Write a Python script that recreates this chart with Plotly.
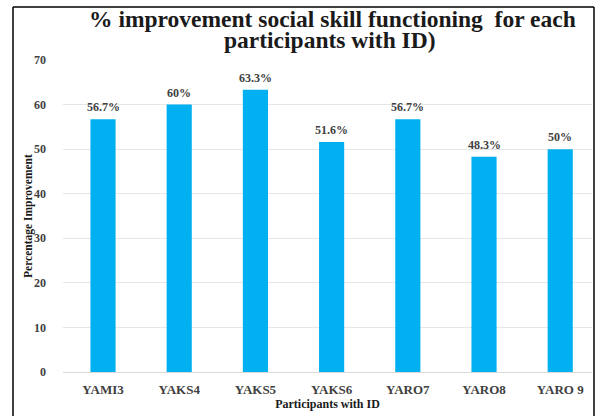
import plotly.graph_objects as go

participants = ["YAMI3", "YAKS4", "YAKS5", "YAKS6", "YARO7", "YARO8", "YARO 9"]
improvement = [56.7, 60, 63.3, 51.6, 56.7, 48.3, 50]
labels = ["56.7%", "60%", "63.3%", "51.6%", "56.7%", "48.3%", "50%"]
y_ticks = [0, 10, 20, 30, 40, 50, 60, 70]
title_lines = ["% improvement social skill functioning  for each", "participants with ID)"]

W, H = 595, 416
L, R, T, B = 63, 3, 60, 44
pw, ph = W - L - R, H - T - B

font = "Liberation Serif"

fig = go.Figure(go.Bar(
    x=participants, y=improvement,
    marker=dict(color="#00B0F0", line=dict(width=0)),
    cliponaxis=False,
))

for p, v, t in zip(participants, improvement, labels):
    fig.add_annotation(x=p, y=v, text=t, showarrow=False, yanchor="middle", yshift=12,
                       font=dict(family=font, size=12, color="#404040", weight="bold"))

def px_x(p):
    return (p - L) / pw

def px_y(p):
    return 1 - (p - T) / ph

for line, cx, cy in zip(title_lines, [332, 330], [19, 40]):
    fig.add_annotation(xref="paper", yref="paper", x=px_x(cx), y=px_y(cy), text=line, showarrow=False,
                       xanchor="center", yanchor="middle", borderpad=0,
                       font=dict(family=font, size=23.5, color="#1a1a1a", weight="bold"))

fig.add_annotation(xref="paper", yref="paper", x=px_x(28), y=px_y(216), text="Percentage Improvement",
                   textangle=-90, showarrow=False, xanchor="center", yanchor="middle", borderpad=0,
                   font=dict(family=font, size=11.5, color="#1a1a1a", weight="bold"))

border = dict(color="black", width=1.5)
fig.add_shape(type="line", xref="paper", yref="paper", x0=px_x(13), x1=px_x(13), y0=px_y(7), y1=px_y(420), line=border)
fig.add_shape(type="line", xref="paper", yref="paper", x0=px_x(13), x1=px_x(594), y0=px_y(7), y1=px_y(7), line=border)
fig.add_shape(type="line", xref="paper", yref="paper", x0=px_x(594), x1=px_x(594), y0=px_y(7), y1=px_y(420), line=border)

fig.update_layout(
    width=W, height=H,
    margin=dict(l=L, r=R, t=T, b=B),
    paper_bgcolor="white", plot_bgcolor="white",
    font=dict(family=font),
    bargap=0.67,
    showlegend=False,
    xaxis=dict(
        tickfont=dict(family=font, size=13, color="#404040", weight="bold"),
        title=dict(text="Participants with ID", font=dict(family=font, size=12, color="#1a1a1a", weight="bold"), standoff=1),
        showline=True, linecolor="#d9d9d9", linewidth=1,
        ticks="", ticklabelstandoff=5,
        range=[-0.525, 6.417],
    ),
    yaxis=dict(
        range=[0, 70], tickvals=y_ticks,
        tickfont=dict(family=font, size=12, color="#404040", weight="bold"),
        gridcolor="#e6e6e6", gridwidth=1, zeroline=False,
        ticks="", ticklabelstandoff=16,
    ),
)

fig.write_html("out.html")
